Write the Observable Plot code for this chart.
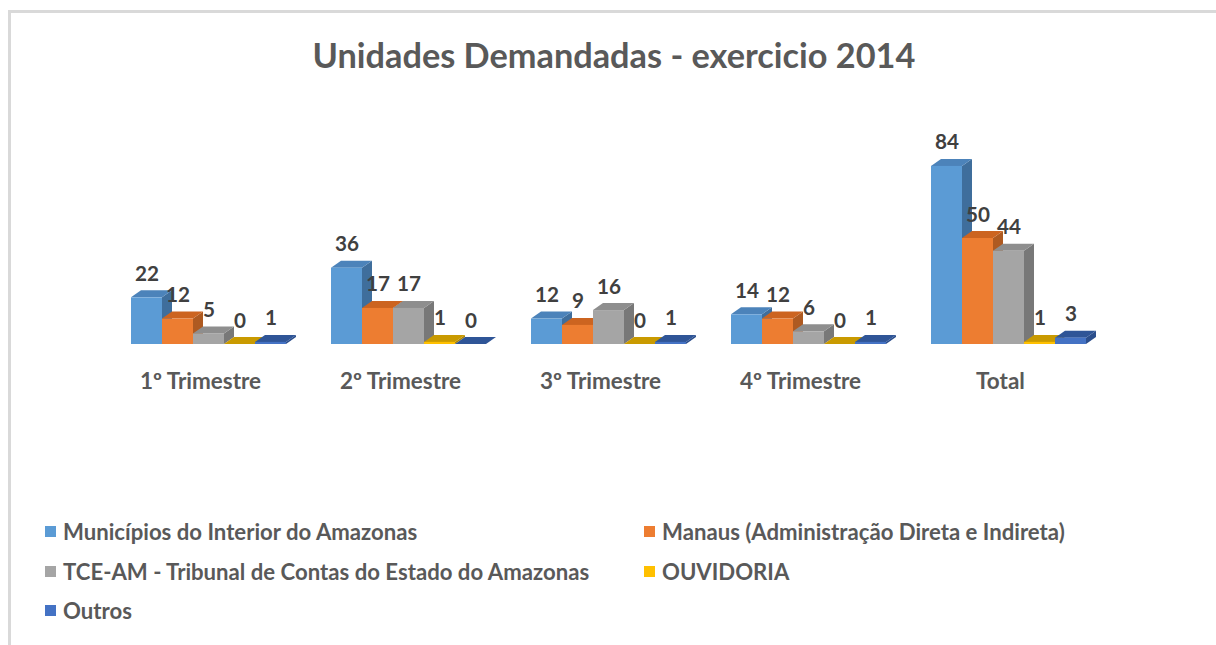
<!DOCTYPE html>
<html lang="pt">
<head>
<meta charset="utf-8">
<script src="https://cdn.jsdelivr.net/npm/d3@7"></script>
<script src="https://cdn.jsdelivr.net/npm/@observablehq/plot@0.6"></script>
<style>
  html, body { margin:0; padding:0; background:#fff; overflow:hidden; }
  #wrap { position:relative; width:1216px; height:645px; overflow:hidden; background:#fff; font-family: Lato, "Open Sans", sans-serif; }
  #frame { position:absolute; left:8px; top:10px; width:1400px; height:800px; border-left:3px solid #d9d9d9; border-top:3px solid #d9d9d9; box-sizing:border-box; }
  #title { position:absolute; left:0; width:1228px; text-align:center; color:#595959; font-weight:bold; white-space:nowrap; line-height:1; }
  #chart { position:absolute; left:0; top:0; }
  .lg { position:absolute; display:flex; align-items:center; color:#595959; font-weight:bold; white-space:nowrap; line-height:1; }
  .sw { width:11px; height:11px; margin-right:7px; flex:none; }
</style>
</head>
<body>
<div id="wrap"><div id="frame"></div><div id="title"></div><div id="chart"></div></div>
<script>
// ---- data ----
const title = "Unidades Demandadas - exercicio 2014";
const groups = ["1º Trimestre", "2º Trimestre", "3º Trimestre", "4º Trimestre", "Total"];
const series = [
  "Municípios do Interior do Amazonas",
  "Manaus (Administração Direta e Indireta)",
  "TCE-AM - Tribunal de Contas do Estado do Amazonas",
  "OUVIDORIA",
  "Outros"
];
const municipios = [22, 36, 12, 14, 84];
const manaus     = [12, 17,  9, 12, 50];
const tce        = [ 5, 17, 16,  6, 44];
const ouvidoria  = [ 0,  1,  0,  0,  1];
const outros     = [ 1,  0,  1,  1,  3];

// ---- styles ----
const frontColors = ["#5B9BD5", "#ED7D31", "#A5A5A5", "#FFC000", "#4472C4"];
const topColors   = ["#4C83BA", "#CC6420", "#8E8E8E", "#C99A00", "#2F5597"];
const sideColors  = ["#3F6E9C", "#AE5A21", "#787878", "#B08600", "#2B4E8C"];
const FONT = "Lato, 'Open Sans', sans-serif";

const ctx = document.createElement("canvas").getContext("2d");
function fit(text, target) { ctx.font = "bold 100px Lato"; return 100 * target / ctx.measureText(text).width; }
const titleFs = fit(title, 603);
const axisFs = fit(groups[0], 122);
const legendFs = fit(series[2], 528);
const valueFs = fit("84", 24);

const seriesValues = [municipios, manaus, tce, ouvidoria, outros];
const rows = groups.flatMap((g, gi) => series.map((s, si) => ({group: g, series: s, value: seriesValues[si][gi]})));

const OFF = 8, DX = 10, DY = 7;

function bars3d(index, scales) {
  const xs = scales.x, ys = scales.y;
  const bw = xs.bandwidth();
  const y0 = ys(0);
  const items = Array.from(index, i => ({j: series.indexOf(rows[i].series), x: xs(rows[i].series) + OFF, y: ys(rows[i].value)}))
    .sort((a, b) => a.x - b.x);
  const g = d3.create("svg:g");
  const poly = (pts, fill) => g.append("path").attr("d", "M" + pts.map(p => p.join(",")).join("L") + "Z").attr("fill", fill);
  for (const d of items) poly([[d.x + bw, d.y], [d.x + bw + DX, d.y - DY], [d.x + bw + DX, y0 - DY], [d.x + bw, y0]], sideColors[d.j]);
  for (const d of items) poly([[d.x, d.y], [d.x + bw, d.y], [d.x + bw + DX, d.y - DY], [d.x + DX, d.y - DY]], topColors[d.j]);
  for (const d of items) g.append("rect").attr("x", d.x).attr("y", d.y).attr("width", bw).attr("height", Math.max(0, y0 - d.y)).attr("fill", frontColors[d.j]);
  return g.node();
}

const chart = Plot.plot({
  width: 1216, height: 420,
  marginTop: 132, marginBottom: 76, marginLeft: 100, marginRight: 116,
  facet: {marginTop: 0, marginRight: 0, marginBottom: 0, marginLeft: 0},
  fx: {domain: groups, padding: 0, axis: null},
  x: {domain: series, paddingInner: 0, paddingOuter: 0.725, axis: null},
  y: {domain: [0, 100], axis: null},
  color: {domain: series, range: frontColors},
  style: {fontFamily: FONT, background: "transparent", overflow: "visible"},
  marks: [
    Plot.barY(rows, {fx: "group", x: "series", y: "value", fill: "series", render: bars3d}),
    Plot.text(rows, {fx: "group", x: "series", y: "value", text: "value", dx: OFF, dy: -17, lineAnchor: "bottom",
      fill: "#404040", fontWeight: "bold", fontSize: valueFs}),
    Plot.text(groups, {fx: d => d, text: d => d, frameAnchor: "bottom", dy: 37, lineAnchor: "middle",
      fill: "#595959", fontWeight: "bold", fontSize: axisFs})
  ]
});
document.getElementById("chart").appendChild(chart);

// title
const t = document.getElementById("title");
t.textContent = title;
t.style.fontSize = titleFs + "px";
t.style.top = (68 - 0.887 * titleFs) + "px";

// legend
const legendPos = [[45, 532], [644, 532], [45, 572], [644, 572], [45, 611]];
const wrap = document.getElementById("wrap");
series.forEach((s, i) => {
  const d = document.createElement("div");
  d.className = "lg";
  d.style.left = legendPos[i][0] + "px";
  d.style.top = (legendPos[i][1] - legendFs / 2) + "px";
  d.style.height = legendFs + "px";
  d.style.fontSize = legendFs + "px";
  const sw = document.createElement("span");
  sw.className = "sw";
  sw.style.background = frontColors[i];
  const tx = document.createElement("span");
  tx.textContent = s;
  d.appendChild(sw); d.appendChild(tx);
  wrap.appendChild(d);
});
</script>
</body>
</html>
